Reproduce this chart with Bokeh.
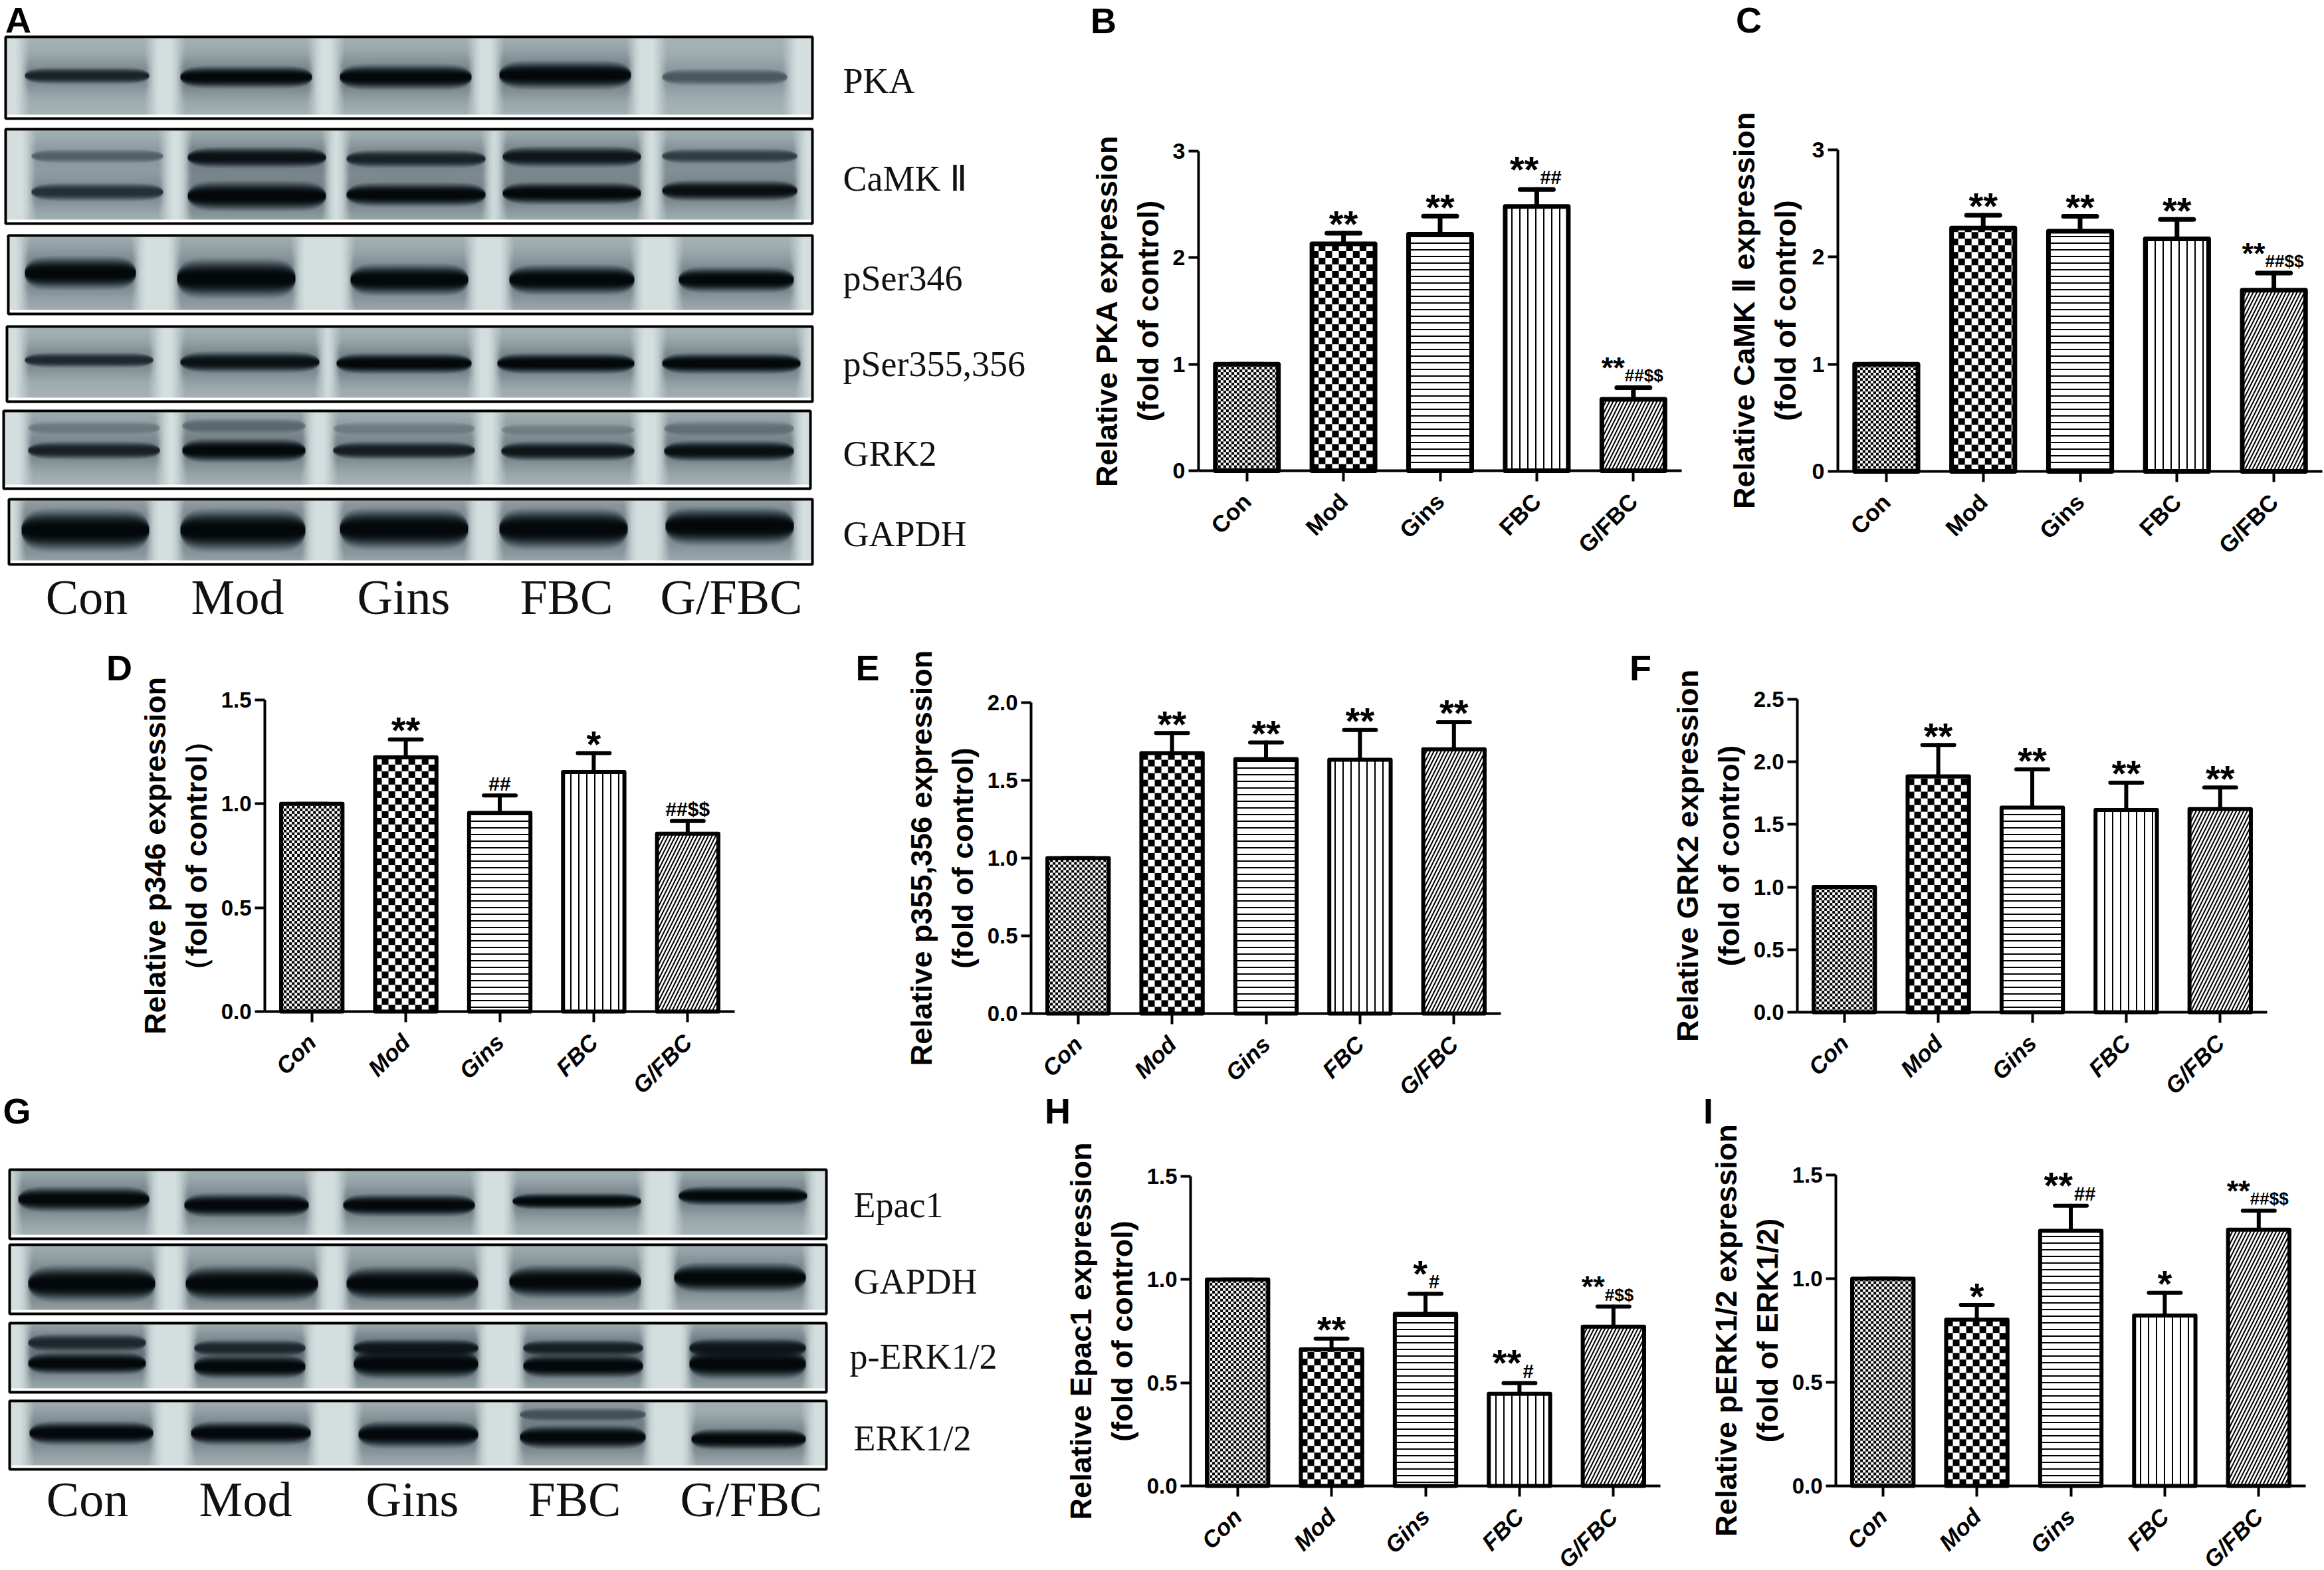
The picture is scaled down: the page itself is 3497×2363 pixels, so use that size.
import numpy as np
from math import pi
from bokeh.plotting import figure
from bokeh.layouts import column, row
from bokeh.embed import file_html
from bokeh.resources import INLINE
from bokeh.core.properties import value
from bokeh.models import (ColumnDataSource, Range1d, FixedTicker, Whisker, TeeHead,
                          Label, PrintfTickFormatter)

categories = ["Con", "Mod", "Gins", "FBC", "G/FBC"]

pka_values = [1.0, 2.13, 2.22, 2.48, 0.67]
pka_upper = [1.0, 2.23, 2.39, 2.64, 0.78]
pka_stars = ["", "**", "**", "**", "**"]
pka_marks = ["", "", "", "##", "##$$"]

camk_values = [1.0, 2.27, 2.24, 2.17, 1.69]
camk_upper = [1.0, 2.39, 2.38, 2.35, 1.85]
camk_stars = ["", "**", "**", "**", "**"]
camk_marks = ["", "", "", "", "##$$"]

p346_values = [1.0, 1.224, 0.956, 1.153, 0.856]
p346_upper = [1.0, 1.31, 1.04, 1.244, 0.917]
p346_stars = ["", "**", "", "*", ""]
p346_marks = ["", "", "##", "", "##$$"]

p355_values = [1.0, 1.675, 1.637, 1.633, 1.70]
p355_upper = [1.0, 1.805, 1.744, 1.824, 1.874]
p355_stars = ["", "**", "**", "**", "**"]
p355_marks = ["", "", "", "", ""]

grk2_values = [1.0, 1.884, 1.635, 1.616, 1.623]
grk2_upper = [1.0, 2.135, 1.94, 1.834, 1.796]
grk2_stars = ["", "**", "**", "**", "**"]
grk2_marks = ["", "", "", "", ""]

epac_values = [1.0, 0.662, 0.834, 0.447, 0.772]
epac_upper = [1.0, 0.714, 0.931, 0.498, 0.869]
epac_stars = ["", "**", "*", "**", "**"]
epac_marks = ["", "", "#", "#", "#$$"]

perk_values = [1.0, 0.802, 1.231, 0.822, 1.236]
perk_upper = [1.0, 0.873, 1.352, 0.932, 1.328]
perk_stars = ["", "*", "**", "*", "**"]
perk_marks = ["", "", "##", "", "##$$"]

ticks_3 = [0, 1, 2, 3]
ticks_15 = [0, 0.5, 1.0, 1.5]
ticks_20 = [0, 0.5, 1.0, 1.5, 2.0]
ticks_25 = [0, 0.5, 1.0, 1.5, 2.0, 2.5]

SANS = "Liberation Sans"
SERIF = "Liberation Serif"

# per category fill: checker cell size in pixels, or a hatch (pattern, scale, weight)
FILLS = [("checker", 4), ("checker", 10), ("horizontal_line", 10, 2),
         ("vertical_line", 12, 2), ("right_diagonal_line", 11, 2)]


def checker_image(wpx, hpx, cell):
    yy, xx = np.mgrid[0:hpx, 0:wpx]
    on = ((xx // cell + yy // cell) % 2) == 0
    img = np.zeros(xx.shape, dtype=np.uint32)
    view = img.view(dtype=np.uint8).reshape((*xx.shape, 4))
    view[:, :, :3] = np.where(on[..., None], 0, 255)
    view[:, :, 3] = 255
    return img


def letter(p, text, cx, cy, X0, Y1):
    p.add_layout(Label(x=cx - X0, y=Y1 - cy, x_units="screen", y_units="screen", text=text,
                       text_font=SANS, text_font_style="bold", text_font_size="54px",
                       text_align="center", text_baseline="middle", text_color="black"))


def bar_panel(box, frame, line1, line2, vals, upper, stars, marks, ticks, fmt, let, letpos,
              lw=6, tick_size="33px", italic=True, cap=48, standoff=9, xfont="35px", xstand=24):
    X0, Y0, X1, Y1 = box
    L, T, R, B = frame
    n = len(categories)
    top = ticks[-1]
    spacing = (R - L) / n
    ppu = (B - T) / top
    # the frame fills the whole figure; the axes sit at zero, bounded to the plotted area
    p = figure(width=X1 - X0, height=Y1 - Y0, output_backend="svg", toolbar_location=None,
               x_range=Range1d(-(L - X0) / spacing, n + (X1 - R) / spacing),
               y_range=Range1d(-(Y1 - B) / ppu, top + (T - Y0) / ppu),
               frame_align=False, min_border=0)
    p.outline_line_color = None
    p.grid.visible = False
    p.background_fill_color = "white"
    centers = [k + 0.5 for k in range(n)]
    src = ColumnDataSource(dict(x=centers, lower=vals, upper=upper))
    p.add_layout(Whisker(source=src, base="x", upper="upper", lower="lower", dimension="height",
                         line_width=lw, line_color="black", line_cap="round",
                         upper_head=TeeHead(size=cap, line_width=lw, line_color="black", line_cap="round"),
                         lower_head=None, level="underlay"))
    bar_w = 0.653
    for c, v, fill in zip(centers, vals, FILLS):
        if fill[0] == "checker":
            p.image_rgba(image=[checker_image(int(bar_w * spacing), int(v * ppu), fill[1])],
                         x=c - bar_w / 2, y=0, dw=bar_w, dh=v)
            p.vbar(x=[c], top=[v], bottom=0, width=bar_w, fill_color=None, line_color="black",
                   line_width=lw, line_join="round")
        else:
            p.vbar(x=[c], top=[v], bottom=0, width=bar_w, fill_color="white", line_color="black",
                   line_width=lw, line_join="round", hatch_pattern=fill[0], hatch_color="black",
                   hatch_scale=fill[1], hatch_weight=fill[2])

    def put(c, u, s, size, align, dx, dy):
        p.text(x=[c], y=[u], text=[s], text_font=value(SANS), text_font_style="bold",
               text_font_size=size, text_align=align, text_baseline="alphabetic",
               x_offset=dx, y_offset=dy, text_color="black")
    for c, u, st, mk in zip(centers, upper, stars, marks):
        if st and not mk:
            put(c, u, st, "56px", "center", 0, -14)
        elif mk and not st:
            put(c, u, mk, "30px", "center", 0, -18)
        elif st and len(mk) >= 3:
            put(c, u, st, "45px", "right", -13, -30)
            put(c, u, mk, "26px", "left", -13, -18)
        elif st:
            put(c, u, st, "56px", "right", 3, -31)
            put(c, u, mk, "29px", "left", 5, -18)

    ya = p.yaxis[0]
    ya.fixed_location = 0
    ya.bounds = (0, top)
    ya.ticker = FixedTicker(ticks=ticks)
    ya.formatter = PrintfTickFormatter(format=fmt)
    ya.minor_tick_line_color = None
    ya.major_tick_in = 0
    ya.major_tick_out = 15
    ya.major_tick_line_width = 4
    ya.axis_line_width = 4
    ya.major_label_text_font = SANS
    ya.major_label_text_font_style = "bold"
    ya.major_label_text_font_size = tick_size
    ya.major_label_text_color = "black"
    ya.major_label_standoff = 5
    ya.axis_label = line1 + "\n" + line2
    ya.axis_label_text_font = SANS
    ya.axis_label_text_font_style = "bold"
    ya.axis_label_text_font_size = "45px"
    ya.axis_label_text_color = "black"
    ya.axis_label_text_line_height = 1.2
    ya.axis_label_standoff = standoff
    xa = p.xaxis[0]
    xa.fixed_location = 0
    xa.bounds = (0, n)
    xa.ticker = FixedTicker(ticks=centers)
    xa.major_label_overrides = dict(zip(centers, categories))
    xa.major_tick_in = 0
    xa.major_tick_out = 16
    xa.major_tick_line_width = 4
    xa.axis_line_width = 4
    xa.minor_tick_line_color = None
    xa.major_label_orientation = pi / 4
    xa.major_label_text_font = SANS
    xa.major_label_text_font_style = "bold italic" if italic else "bold"
    xa.major_label_text_font_size = xfont
    xa.major_label_text_color = "black"
    xa.major_label_standoff = xstand
    letter(p, let, letpos[0], letpos[1], X0, Y1)
    return p


GAP = np.array([212, 222, 223], float)
LANE = np.array([165, 178, 182], float)
MID = np.array([70, 85, 92], float)
INK = np.array([3, 8, 10], float)


def blot_image(box, lanes, bands):
    x0, y0, x1, y1 = box
    X, Y = np.meshgrid(np.arange(x0, x1), np.arange(y0, y1))
    t = np.zeros(X.shape)
    for (a, b) in lanes:
        e = np.clip((X - (a - 14)) / 22, 0, 1) * np.clip(((b + 14) - X) / 22, 0, 1)
        t = np.maximum(t, 0.3 * e)
    for (a, b), lane_bands in zip(lanes, bands):
        mid, half = (a + b) / 2, (b - a) / 2
        u = np.clip(np.abs(X - mid) / half, 0, 1)
        w = np.sqrt(np.clip(1 - u ** 8, 0.0001, 1))
        for yc, h, d in lane_bands:
            core = d * np.exp(-np.abs((Y - yc) / ((h + 3) * w)) ** 3) * (np.abs(X - mid) < half)
            halo = 0.32 * d * np.exp(-((Y - yc) / (h + 18)) ** 2) * np.clip((half + 6 - np.abs(X - mid)) / 10, 0, 1)
            t = t + (1 - t) * np.maximum(core, halo)
    stops = [0, 0.3, 0.7, 1]
    rgb = [np.interp(t, stops, [GAP[i], LANE[i], MID[i], INK[i]]) for i in range(3)]
    img = np.zeros(X.shape, dtype=np.uint32)
    view = img.view(dtype=np.uint8).reshape((*X.shape, 4))
    for i in range(3):
        view[:, :, i] = rgb[i].astype(np.uint8)
    view[:, :, 3] = 255
    return img[::-1]


def blot_panel(box, blots, labels, captions, caption_y, let, letpos):
    X0, Y0, X1, Y1 = box
    p = figure(width=X1 - X0, height=Y1 - Y0, output_backend="svg", toolbar_location=None,
               x_range=Range1d(X0, X1), y_range=Range1d(-Y1, -Y0), min_border=0, frame_align=False,
               x_axis_location=None, y_axis_location=None)
    p.outline_line_color = None
    p.grid.visible = False
    for (bx, lanes, bands) in blots:
        x0, y0, x1, y1 = bx
        inner = (x0 + 2, y0 + 2, x1 - 2, y1 - 6)
        p.image_rgba(image=[blot_image(inner, lanes, bands)], x=inner[0], y=-inner[3],
                     dw=inner[2] - inner[0], dh=inner[3] - inner[1])
        p.quad(left=x0, right=x1, top=-y0, bottom=-y1, fill_color=None, line_color="black", line_width=4)
    for txt, lx, ly in labels:
        p.text(x=[lx], y=[-ly], text=[txt], text_font=value(SERIF), text_font_size="54px",
               text_align="left", text_baseline="middle", text_color="#111111")
    for (txt, cx) in captions:
        p.text(x=[cx], y=[-caption_y], text=[txt], text_font=value(SERIF), text_font_size="74px",
               text_align="center", text_baseline="middle", text_color="#111111")
    letter(p, let, letpos[0], letpos[1], X0, Y1)
    return p


# ---------- western blots: lane extents and bands (centre, half-thickness, darkness)
A_blots = [
    ((8, 55, 1222, 178),
     [(36, 224), (270, 469), (510, 709), (750, 949), (995, 1184)],
     [[(113, 9, .85)], [(115, 13, 1)], [(115, 15, 1)], [(112, 17, 1)], [(115, 9, .55)]]),
    ((8, 194, 1222, 336),
     [(46, 245), (281, 490), (520, 730), (755, 964), (995, 1199)],
     [[(234, 7, .5), (288, 10, .78)], [(236, 12, .95), (294, 18, 1)], [(238, 10, .85), (292, 14, 1)],
      [(235, 12, .92), (290, 13, 1)], [(234, 8, .7), (286, 12, .96)]]),
    ((12, 354, 1222, 472),
     [(36, 204), (265, 444), (526, 704), (765, 954), (1020, 1194)],
     [[(410, 20, 1)], [(418, 24, 1)], [(420, 19, 1)], [(420, 18, 1)], [(420, 15, 1)]]),
    ((10, 491, 1222, 604),
     [(36, 230), (270, 480), (505, 709), (747, 954), (995, 1204)],
     [[(541, 8, .82)], [(544, 12, .95)], [(546, 12, 1)], [(546, 12, 1)], [(546, 12, 1)]]),
    ((5, 618, 1219, 735),
     [(41, 240), (273, 459), (500, 714), (753, 954), (998, 1194)],
     [[(643, 7, .3), (677, 10, .86)], [(640, 8, .4), (677, 14, 1)], [(644, 7, .28), (677, 10, .88)],
      [(646, 6, .25), (678, 11, .92)], [(644, 8, .35), (678, 12, .96)]]),
    ((13, 751, 1222, 849),
     [(31, 224), (270, 459), (510, 704), (750, 944), (1000, 1194)],
     [[(797, 26, 1)], [(797, 26, 1)], [(795, 25, 1)], [(795, 25, 1)], [(791, 23, 1)]]),
]
G_blots = [
    ((14, 1760, 1243, 1864),
     [(26, 224), (276, 464), (515, 714), (770, 964), (1020, 1214)],
     [[(1804, 15, 1)], [(1813, 14, 1)], [(1813, 13, 1)], [(1807, 9, 1)], [(1799, 11, 1)]]),
    ((14, 1873, 1243, 1977),
     [(41, 233), (278, 478), (520, 719), (765, 964), (1013, 1212)],
     [[(1931, 22, 1)], [(1931, 22, 1)], [(1931, 21, 1)], [(1928, 20, 1)], [(1922, 18, 1)]]),
    ((14, 1991, 1243, 2095),
     [(41, 219), (291, 459), (531, 719), (786, 967), (1036, 1212)],
     [[(2020, 10, .8), (2051, 13, 1)], [(2028, 9, .8), (2056, 14, 1)], [(2028, 10, .9), (2052, 18, 1)],
      [(2028, 9, .85), (2055, 14, 1)], [(2028, 11, .9), (2052, 18, 1)]]),
    ((14, 2108, 1243, 2211),
     [(43, 230), (286, 467), (538, 719), (781, 971), (1039, 1212)],
     [[(2156, 14, 1)], [(2156, 14, 1)], [(2158, 16, 1)], [(2128, 7, .55), (2162, 14, 1)], [(2165, 12, 1)]]),
]
A_labels = [("PKA", 1268, 121), ("CaMK Ⅱ", 1268, 268), ("pSer346", 1268, 418),
            ("pSer355,356", 1268, 547), ("GRK2", 1268, 682), ("GAPDH", 1268, 803)]
G_labels = [("Epac1", 1284, 1813), ("GAPDH", 1284, 1928), ("p-ERK1/2", 1278, 2041), ("ERK1/2", 1284, 2164)]
A_caps = list(zip(categories, [130, 357, 607, 852, 1100]))
G_caps = list(zip(categories, [131, 369, 620, 864, 1130]))

a = blot_panel((0, 0, 1620, 940), A_blots, A_labels, A_caps, 898, "A", (27, 29))
b = bar_panel((1620, 0, 2600, 940), (1803, 227, 2530, 708), "Relative PKA expression", "(fold of control)",
              pka_values, pka_upper, pka_stars, pka_marks, ticks_3, "%d", "B", (1660, 30), lw=7, tick_size="34px", italic=False, cap=50)
c = bar_panel((2600, 0, 3497, 940), (2765, 225, 3494, 709), "Relative CaMK Ⅱ expression", "(fold of control)",
              camk_values, camk_upper, camk_stars, camk_marks, ticks_3, "%d", "C", (2631, 29), lw=7, tick_size="34px", italic=False, cap=50, standoff=12)
d = bar_panel((0, 940, 1270, 1645), (398, 1053, 1105, 1522), "Relative p346 expression", "（fold of control）",
              p346_values, p346_upper, p346_stars, p346_marks, ticks_15, "%.1f", "D", (179, 1004))
e = bar_panel((1270, 940, 2440, 1645), (1551, 1057, 2258, 1525), "Relative p355,356 expression", "(fold of control)",
              p355_values, p355_upper, p355_stars, p355_marks, ticks_20, "%.1f", "E", (1305, 1004))
f = bar_panel((2440, 940, 3497, 1645), (2704, 1052, 3411, 1523), "Relative GRK2 expression", "(fold of control)",
              grk2_values, grk2_upper, grk2_stars, grk2_marks, ticks_25, "%.1f", "F", (2468, 1004))
g = blot_panel((0, 1645, 1560, 2360), G_blots, G_labels, G_caps, 2256, "G", (25, 1671))
h = bar_panel((1560, 1645, 2530, 2360), (1791, 1770, 2498, 2236), "Relative Epac1 expression", "(fold of control)",
              epac_values, epac_upper, epac_stars, epac_marks, ticks_15, "%.1f", "H", (1591, 1671))
i = bar_panel((2530, 1645, 3497, 2360), (2762, 1768, 3469, 2236), "Relative pERK1/2 expression", "(fold of ERK1/2)",
              perk_values, perk_upper, perk_stars, perk_marks, ticks_15, "%.1f", "I", (2570, 1671))

layout = column(row(a, b, c, spacing=0), row(d, e, f, spacing=0), row(g, h, i, spacing=0), spacing=0)
open("out.html", "w").write(file_html(layout, INLINE))
